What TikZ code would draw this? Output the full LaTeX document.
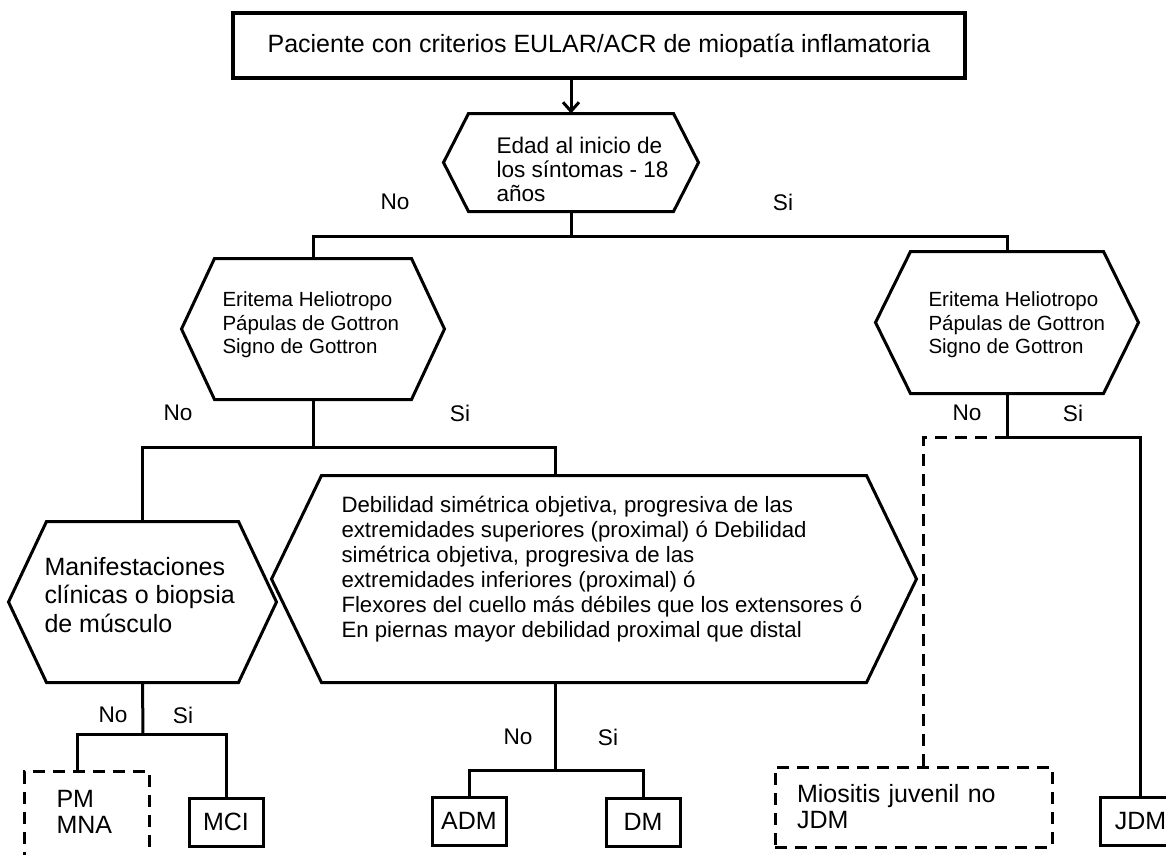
\documentclass[tikz,border=0pt]{standalone}
\usepackage{fontspec}
\setmainfont{Liberation Sans}
\usetikzlibrary{arrows.meta}
% outline of a flat hexagon over a named (empty) rectangle node
\newcommand{\hexframe}[2]{%
  \draw[line width=3pt,line join=miter] (#1.west) -- ([xshift=#2]#1.north west) -- ([xshift=-#2]#1.north east)
    -- (#1.east) -- ([xshift=-#2]#1.south east) -- ([xshift=#2]#1.south west) -- cycle;}
\begin{document}
\begin{tikzpicture}[x=1pt,y=-1pt,line width=3pt,
  every node/.style={inner sep=0pt,align=left},
  bigfont/.style={font=\fontsize{25pt}{28.5pt}\selectfont},
  leaffont/.style={font=\fontsize{25pt}{26pt}\selectfont},
  midfont/.style={font=\fontsize{22.6pt}{24pt}\selectfont},
  debfont/.style={font=\fontsize{22.2pt}{25pt}\selectfont},
  smallfont/.style={font=\fontsize{20.5pt}{23.5pt}\selectfont},
  hexa/.style={rectangle},
  leaf/.style={draw,line width=3pt,leaffont,minimum width=74pt,minimum height=48pt},
  dashbox/.style={dashed,dash pattern=on 12pt off 8pt}]
\useasboundingbox (0,0) rectangle (1166,854);
% Start
\node[draw,line width=3.5pt,bigfont,minimum width=732pt,minimum height=65pt] (paciente) at (599,45.5) {Paciente con criterios EULAR/ACR de miopatía inflamatoria};
% Age question
\node[hexa,minimum width=252pt,minimum height=95pt] (edad) at (571,162.5) {};
\hexframe{edad}{25pt}
\node[midfont,anchor=west] (edadtxt) at (495,169) {Edad al inicio de\\los síntomas - 18\\años};
\draw[-{Straight Barb[length=9pt,width=16pt]}] (paciente.south -| edad.north) -- (edad.north);
\node[midfont] (no1) at (395,202) {No};
\node[midfont] (si1) at (783,202) {Si};
% Skin signs, adults and juveniles
\node[hexa,minimum width=260pt,minimum height=138pt] (eritL) at (313,329) {};
\hexframe{eritL}{33pt}
\node[smallfont,anchor=west] (eritLtxt) at (221,325) {Eritema Heliotropo\\Pápulas de Gottron\\Signo de Gottron};
\node[hexa,minimum width=260pt,minimum height=139pt] (eritR) at (1007,322.5) {};
\hexframe{eritR}{35pt}
\node[smallfont,anchor=west] (eritRtxt) at (927,325) {Eritema Heliotropo\\Pápulas de Gottron\\Signo de Gottron};
\coordinate (j1) at (571,236);
\draw (edad.south) -- (j1);
\draw (eritL.north) |- (j1) -| (eritR.north);
\node[midfont] (no2) at (178,413) {No};
\node[midfont] (si2) at (460,413) {Si};
\node[midfont] (no5) at (967,413) {No};
\node[midfont] (si5) at (1073,413) {Si};
% Adult branches
\node[hexa,minimum width=265pt,minimum height=158pt] (manif) at (142.5,602) {};
\hexframe{manif}{38pt}
\node[bigfont,anchor=west] (maniftxt) at (43,595) {Manifestaciones\\clínicas o biopsia\\de músculo};
\node[hexa,minimum width=642pt,minimum height=204pt] (debil) at (594,579) {};
\hexframe{debil}{50pt}
\node[debfont,anchor=west] (debiltxt) at (340,569.5) {Debilidad simétrica objetiva, progresiva de las\\extremidades superiores (proximal) ó Debilidad\\simétrica objetiva, progresiva de las\\extremidades inferiores (proximal) ó\\Flexores del cuello más débiles que los extensores ó\\En piernas mayor debilidad proximal que distal};
\coordinate (j2) at (313,447);
\coordinate (j3) at (555,770);
\draw (eritL.south) -- (j2);
\draw (manif.north) |- (j2) -| (debil.north -| j3);
% Leaves
\node[draw,dashbox,anchor=north west,minimum width=125pt,minimum height=110pt] (pm) at (23,770) {};
\node[leaffont,anchor=west] (pmtxt) at (55,812) {PM\\MNA};
\node[leaf] (mci) at (226,822) {MCI};
\coordinate (j4) at (143,734);
\draw (manif.south) -- (j4);
\draw ([xshift=-10pt]pm.north) |- (j4) -| (mci.north);
\node[midfont] (no3) at (113,715) {No};
\node[midfont] (si3) at (183,715) {Si};
\node[leaf] (adm) at (469,821) {ADM};
\node[leaf] (dm) at (643,822) {DM};
\draw (debil.south -| j3) -- (j3);
\draw (adm.north) |- (j3) -| (dm.north);
\node[midfont] (no4) at (518,737) {No};
\node[midfont] (si4) at (608,737) {Si};
% Juvenile leaves
\node[draw,dashbox,leaffont,minimum width=277pt,minimum height=80pt,text width=233pt,inner xsep=22pt] (miositis) at (913.5,807) {Miositis juvenil no\\JDM};
\node[leaf,minimum width=81pt] (jdm) at (1140.5,821) {JDM};
\coordinate (j5) at (1007,437);
\draw (eritR.south) -- (j5) -| (jdm.north);
\draw[dashbox] (j5) -| ([xshift=10pt]miositis.north);
\end{tikzpicture}
\end{document}
